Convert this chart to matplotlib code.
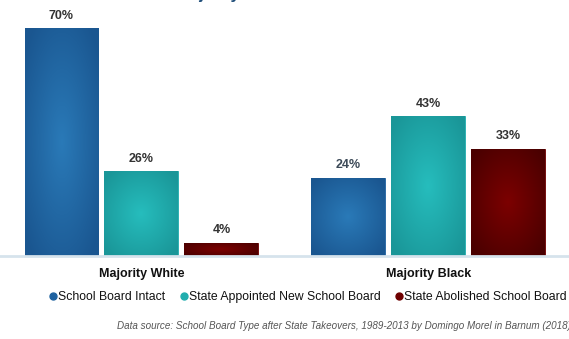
import matplotlib.pyplot as plt
import numpy as np
from matplotlib.colors import to_rgb

groups = ['Majority White', 'Majority Black']
series = ['School Board Intact', 'State Appointed New School Board', 'State Abolished School Board']
intact = [70, 24]
appointed = [26, 43]
abolished = [4, 33]
colors = ['#1f62a0', '#21adae', '#6e0000']
centers = ['#2a7ab8', '#26bdbd', '#7c0000']
edges = ['#1a5690', '#1a9698', '#4a0000']

plt.rcParams['font.family'] = ['Liberation Sans', 'DejaVu Sans']

fig = plt.figure(figsize=(5.69, 3.39), dpi=100)
ax = fig.add_axes([0, 83 / 339, 1, 244 / 339])

# radial gradient, light in the middle, darker at the edges
g = np.linspace(-1, 1, 60)
gx, gy = np.meshgrid(g, g)
r = np.clip(np.sqrt(gx ** 2 + gy ** 2) / 1.3, 0, 1)[..., None]

x = np.arange(len(groups))
width = 74 / 287
step = 80 / 287
values = [intact, appointed, abolished]
for i, (vals, c) in enumerate(zip(values, colors)):
    bars = ax.bar(x + (i - 1) * step, vals, width, color=c, edgecolor=c,
                  linewidth=0.6, label=series[i])
    img = np.array(to_rgb(centers[i])) * (1 - r) + np.array(to_rgb(edges[i])) * r
    for b, v in zip(bars, vals):
        x0, w = b.get_x(), b.get_width()
        im = ax.imshow(img, extent=(x0, x0 + w, 0, v), aspect='auto',
                       interpolation='bilinear', zorder=2)
        im.set_clip_path(b)
        ax.text(x0 + w / 2, v + 2.0, '%d%%' % v,
                ha='center', va='bottom', fontsize=9, fontweight='bold',
                color='#3c4a58' if (i == 0 and v == 24) else '#333333', zorder=3)

ax.set_xlim(-141.5 / 287, (569 - 141.5) / 287)
ax.set_ylim(0, 75)
for s in ['top', 'right', 'left']:
    ax.spines[s].set_visible(False)
ax.spines['bottom'].set_color('#d6e3ec')
ax.spines['bottom'].set_linewidth(2)
ax.spines['bottom'].set_zorder(4)
ax.set_yticks([])
ax.set_xticks(x)
ax.set_xticklabels(groups, fontsize=9, fontweight='bold', color='#111111')
ax.tick_params(axis='x', length=0, pad=9)

handles = [plt.Line2D([], [], marker='o', linestyle='', color=c, markersize=5)
           for c in colors]
fig.legend(handles, series, loc='center', bbox_to_anchor=(0.540, 1 - 297 / 339),
           ncol=3, frameon=False, fontsize=8.8, handletextpad=0.0,
           columnspacing=1.15, handlelength=0.8, labelcolor='#111111')

fig.text(0.31, 1 + 1.5 / 339, 'Majority Race of School Districts', fontsize=12,
         fontweight='bold', color='#1f4e79', va='baseline', ha='left')

fig.text(1.004, 1 - 326 / 339,
         'Data source: School Board Type after State Takeovers, 1989-2013 by Domingo Morel in Barnum (2018)',
         fontsize=7.1, style='italic', color='#555555', ha='right', va='center')

fig.savefig('out.png', dpi=100)
